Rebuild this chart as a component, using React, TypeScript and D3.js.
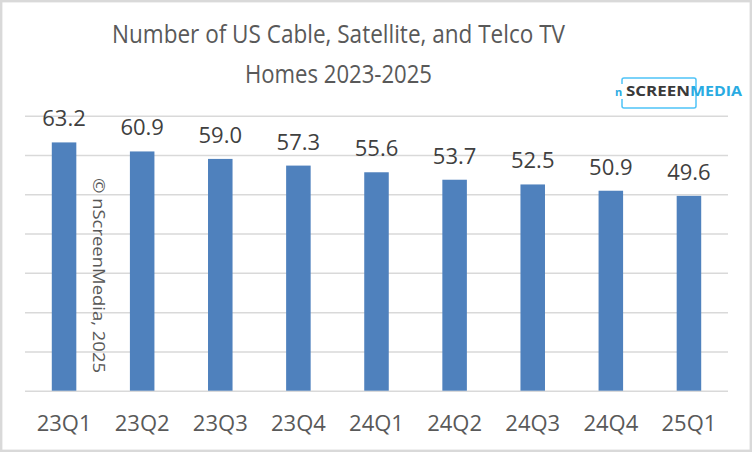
import { useEffect, useRef } from "react";
import * as d3 from "d3";

const quarters = ["23Q1", "23Q2", "23Q3", "23Q4", "24Q1", "24Q2", "24Q3", "24Q4", "25Q1"];
const homes = [63.2, 60.9, 59.0, 57.3, 55.6, 53.7, 52.5, 50.9, 49.6];
const yTicks = [0, 10, 20, 30, 40, 50, 60, 70];
const titleLines = ["Number of US Cable, Satellite, and Telco TV", "Homes 2023-2025"];

export default function App() {
  const width = 752;
  const height = 452;
  const marginTop = 115.7;
  const marginRight = 24;
  const marginBottom = 61.3;
  const marginLeft = 25;
  const font = "'Open Sans', sans-serif";
  const ref = useRef<SVGSVGElement>(null);

  useEffect(() => {
    const svg = d3.select(ref.current);
    svg.selectAll("*").remove();

    const xScale = d3
      .scaleBand()
      .domain(quarters)
      .range([marginLeft, width - marginRight])
      .paddingInner(0.686)
      .paddingOuter(0.343);

    const yScale = d3
      .scaleLinear()
      .domain([0, 70])
      .range([height - marginBottom, marginTop]);

    // chart border
    svg
      .append("rect")
      .attr("x", 1.2)
      .attr("y", 1.2)
      .attr("width", width - 2.4)
      .attr("height", height - 2.4)
      .attr("fill", "#fff")
      .attr("stroke", "#d9d9d9")
      .attr("stroke-width", 2.4);

    // gridlines
    svg
      .append("g")
      .attr("transform", `translate(${width - marginRight}, 0)`)
      .call(
        d3
          .axisLeft(yScale)
          .tickValues(yTicks)
          .tickSize(width - marginLeft - marginRight)
          .tickFormat(() => ""),
      )
      .call((g) => g.select(".domain").remove())
      .call((g) =>
        g.selectAll(".tick line").attr("stroke", "#d9d9d9").attr("stroke-width", 1.5),
      );

    // bars
    svg
      .selectAll("rect.bar")
      .data(homes)
      .enter()
      .append("rect")
      .attr("class", "bar")
      .attr("x", (d, i) => xScale(quarters[i]))
      .attr("y", (d) => yScale(d))
      .attr("width", xScale.bandwidth())
      .attr("height", (d) => yScale(0) - yScale(d))
      .attr("fill", "#4f81bd");

    // value labels
    svg
      .selectAll("text.value")
      .data(homes)
      .enter()
      .append("text")
      .attr("class", "value")
      .attr("x", (d, i) => xScale(quarters[i]) + xScale.bandwidth() / 2)
      .attr("y", (d) => yScale(d) - 16)
      .attr("text-anchor", "middle")
      .style("font-family", font)
      .style("font-size", "22px")
      .attr("fill", "#404040")
      .text((d) => d.toFixed(1));

    // x axis labels
    svg
      .append("g")
      .attr("transform", `translate(0, ${height - marginBottom})`)
      .call(d3.axisBottom(xScale).tickSize(0))
      .call((g) => g.select(".domain").remove())
      .call((g) =>
        g
          .selectAll(".tick text")
          .attr("y", 40)
          .attr("dy", 0)
          .style("font-family", font)
          .style("font-size", "22px")
          .attr("fill", "#595959"),
      );

    // title
    svg
      .selectAll("text.title")
      .data(titleLines)
      .enter()
      .append("text")
      .attr("class", "title")
      .attr("x", 338.5)
      .attr("y", (d, i) => 43 + i * 40)
      .attr("text-anchor", "middle")
      .attr("textLength", (d, i) => (i === 0 ? 453 : 187))
      .attr("lengthAdjust", "spacingAndGlyphs")
      .style("font-family", font)
      .style("font-size", "25px")
      .attr("fill", "#595959")
      .text((d) => d);

    // watermark
    svg
      .append("text")
      .attr("transform", "translate(93, 178) rotate(90)")
      .attr("textLength", 195)
      .attr("lengthAdjust", "spacingAndGlyphs")
      .style("font-family", font)
      .style("font-size", "17px")
      .attr("fill", "#595959")
      .text("© nScreenMedia, 2025");

    // logo
    const logo = svg.append("g");
    logo
      .append("path")
      .attr("d", "M622,84 V80 Q622,78 624,78 H694 Q696,78 696,80 V106 Q696,108 694,108 H624 Q622,108 622,106 V99")
      .attr("fill", "none")
      .attr("stroke", "#4fc3f7")
      .attr("stroke-width", 1.5);
    logo
      .append("text")
      .attr("x", 615)
      .attr("y", 96)
      .style("font-family", font)
      .style("font-size", "11px")
      .style("font-weight", "bold")
      .attr("fill", "#29abe2")
      .text("n");
    logo
      .append("text")
      .attr("x", 626)
      .attr("y", 96)
      .attr("textLength", 64)
      .attr("lengthAdjust", "spacingAndGlyphs")
      .style("font-family", font)
      .style("font-size", "14px")
      .style("font-weight", "bold")
      .attr("fill", "#3a3a3a")
      .text("SCREEN");
    logo
      .append("text")
      .attr("x", 690)
      .attr("y", 96)
      .attr("textLength", 52)
      .attr("lengthAdjust", "spacingAndGlyphs")
      .style("font-family", font)
      .style("font-size", "14px")
      .style("font-weight", "bold")
      .attr("fill", "#29abe2")
      .text("MEDIA");
  }, []);

  return (
    <svg
      ref={ref}
      width={width}
      height={height}
      style={{ position: "absolute", left: 0, top: 0 }}
    />
  );
}
